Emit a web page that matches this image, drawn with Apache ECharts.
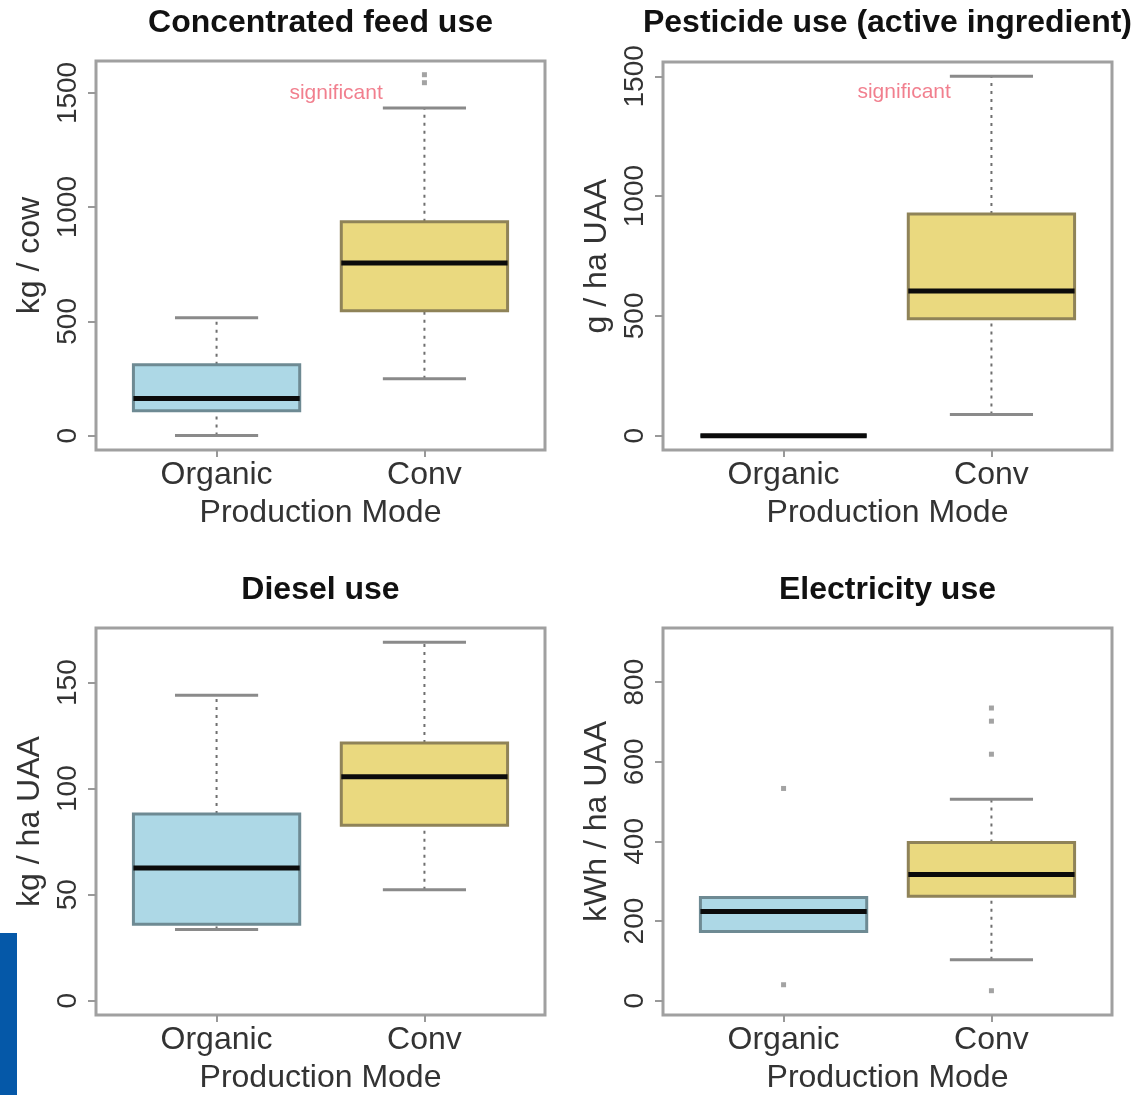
<!DOCTYPE html>
<html>
<head>
<meta charset="utf-8">
<title>Input use by production mode</title>
<style>
  html, body { margin: 0; padding: 0; background: #ffffff; }
  #chart { width: 1133px; height: 1095px; }
</style>
<script src="https://cdn.jsdelivr.net/npm/echarts@6.0.0/dist/echarts.min.js"></script>
</head>
<body>
<div id="chart"></div>
<script>
// Production modes on the x axis (positions 1 and 2)
const modes = ['Organic', 'Conv'];

// Box statistics: [lower whisker, Q1, median, Q3, upper whisker]
const feedOrganic = [0, 109, 162, 310, 516];
const feedConv = [249, 547, 756, 936, 1434];
const feedOutliers = [[2, 1580], [2, 1545]];
const feedTicks = [0, 500, 1000, 1500];

const pestOrganic = [0, 0, 0, 0, 0];
const pestConv = [88, 488, 604, 925, 1500];
const pestOutliers = [];
const pestTicks = [0, 500, 1000, 1500];

const dieselOrganic = [33.6, 36, 62.6, 88, 144];
const dieselConv = [52.3, 82.7, 105.6, 121.5, 169];
const dieselOutliers = [];
const dieselTicks = [0, 50, 100, 150];

const elecOrganic = [174, 174, 224, 259, 259];
const elecConv = [103, 262, 317, 397, 506];
const elecOutliers = [[1, 533], [1, 40], [2, 735], [2, 702], [2, 619], [2, 25]];
const elecTicks = [0, 200, 400, 600, 800];

const FONT = '"Liberation Sans", Arial, Helvetica, sans-serif';
const fills = ['#ADD8E6', '#EAD97F'];
const borders = ['#6E8A93', '#8F8358'];

const panels = [
  { title: 'Concentrated feed use', unit: 'kg / cow', organic: feedOrganic, conv: feedConv,
    outliers: feedOutliers, ticks: feedTicks, min: -63, max: 1640, note: [1.575, 1500],
    rect: { left: 96, top: 61, width: 449, height: 389 } },
  { title: 'Pesticide use (active ingredient)', unit: 'g / ha UAA', organic: pestOrganic, conv: pestConv,
    outliers: pestOutliers, ticks: pestTicks, min: -60, max: 1560, note: [1.58, 1433],
    rect: { left: 663, top: 62, width: 449, height: 388 } },
  { title: 'Diesel use', unit: 'kg / ha UAA', organic: dieselOrganic, conv: dieselConv,
    outliers: dieselOutliers, ticks: dieselTicks, min: -6.76, max: 175.76, note: null,
    rect: { left: 96, top: 628, width: 449, height: 388 } },
  { title: 'Electricity use', unit: 'kWh / ha UAA', organic: elecOrganic, conv: elecConv,
    outliers: elecOutliers, ticks: elecTicks, min: -36, max: 936, note: null,
    rect: { left: 663, top: 628, width: 449, height: 388 } }
];

function renderBox(params, api) {
  const idx = params.dataIndex;
  const x = api.value(0);
  const lo = api.coord([x, api.value(1)]);
  const q1 = api.coord([x, api.value(2)]);
  const med = api.coord([x, api.value(3)]);
  const q3 = api.coord([x, api.value(4)]);
  const hi = api.coord([x, api.value(5)]);
  const halfBox = api.size([0.4, 0])[0];
  const halfCap = api.size([0.2, 0])[0];
  const cx = med[0];
  const whisker = { stroke: '#6f6f6f', lineWidth: 2, lineDash: [3, 5] };
  const cap = { stroke: '#8a8a8a', lineWidth: 3 };
  return {
    type: 'group',
    children: [
      { type: 'line', shape: { x1: cx, y1: lo[1], x2: cx, y2: q1[1] }, style: whisker },
      { type: 'line', shape: { x1: cx, y1: q3[1], x2: cx, y2: hi[1] }, style: whisker },
      { type: 'line', shape: { x1: cx - halfCap, y1: lo[1], x2: cx + halfCap, y2: lo[1] }, style: cap },
      { type: 'line', shape: { x1: cx - halfCap, y1: hi[1], x2: cx + halfCap, y2: hi[1] }, style: cap },
      { type: 'rect',
        shape: { x: cx - halfBox, y: q3[1], width: halfBox * 2, height: q1[1] - q3[1] },
        style: { fill: fills[idx], stroke: borders[idx], lineWidth: 3 } },
      { type: 'line', shape: { x1: cx - halfBox, y1: med[1], x2: cx + halfBox, y2: med[1] },
        style: { stroke: '#0b0b0b', lineWidth: 5 } }
    ]
  };
}

const grids = [], xAxes = [], yAxes = [], series = [], graphics = [];

panels.forEach((p, i) => {
  grids.push(Object.assign({ show: true, borderColor: '#a0a0a0', borderWidth: 3,
    backgroundColor: 'transparent' }, p.rect));

  xAxes.push({
    type: 'value', gridIndex: i, min: 0.42, max: 2.58, position: 'bottom',
    axisLine: { show: false, onZero: false },
    splitLine: { show: false },
    axisTick: { show: true, inside: false, length: 7, customValues: [1, 2],
      lineStyle: { color: '#999999', width: 2 } },
    axisLabel: { show: true, customValues: [1, 2], margin: 9,
      formatter: (v) => modes[Math.round(v) - 1] || '',
      fontFamily: FONT, fontSize: 32, color: '#333333' },
    name: 'Production Mode', nameLocation: 'middle', nameGap: 47,
    nameTextStyle: { fontFamily: FONT, fontSize: 32, color: '#333333' }
  });

  yAxes.push({
    type: 'value', gridIndex: i, min: p.min, max: p.max, position: 'left',
    axisLine: { show: false, onZero: false },
    splitLine: { show: false },
    axisTick: { show: true, inside: false, length: 8, customValues: p.ticks,
      lineStyle: { color: '#999999', width: 2 } },
    axisLabel: { show: true, customValues: p.ticks, rotate: 90, margin: 14,
      formatter: (v) => String(v),
      fontFamily: FONT, fontSize: 28, color: '#333333' },
    name: p.unit, nameLocation: 'middle', nameGap: 50, nameRotate: 90,
    nameTextStyle: { fontFamily: FONT, fontSize: 32, color: '#333333' }
  });

  series.push({
    type: 'custom', xAxisIndex: i, yAxisIndex: i,
    renderItem: renderBox,
    encode: { x: 0, y: [1, 2, 3, 4, 5] },
    data: [[1].concat(p.organic), [2].concat(p.conv)],
    silent: true, clip: false
  });

  if (p.outliers.length) {
    series.push({
      type: 'scatter', xAxisIndex: i, yAxisIndex: i,
      symbol: 'rect', symbolSize: 5,
      itemStyle: { color: '#8c8c8c' },
      data: p.outliers, silent: true
    });
  }

  if (p.note) {
    series.push({
      type: 'scatter', xAxisIndex: i, yAxisIndex: i,
      symbolSize: 0, silent: true,
      label: { show: true, position: 'inside', formatter: 'significant',
        fontFamily: FONT, fontSize: 21, color: '#ee5f72' },
      data: [p.note]
    });
  }

  graphics.push({
    type: 'text',
    x: p.rect.left + p.rect.width / 2,
    y: i < 2 ? 23 : 590,
    style: { text: p.title, font: 'bold 32px ' + FONT, fill: '#111111',
      textAlign: 'center', textVerticalAlign: 'middle', align: 'center', verticalAlign: 'middle' }
  });
});

// Blue edge marker at the lower left
graphics.push({ type: 'rect', shape: { x: 0, y: 933, width: 17, height: 162 },
  style: { fill: '#0558A8' } });

const chart = echarts.init(document.getElementById('chart'), null, { renderer: 'canvas' });
chart.setOption({
  animation: false,
  backgroundColor: '#ffffff',
  grid: grids,
  xAxis: xAxes,
  yAxis: yAxes,
  series: series,
  graphic: graphics
});
</script>
</body>
</html>
